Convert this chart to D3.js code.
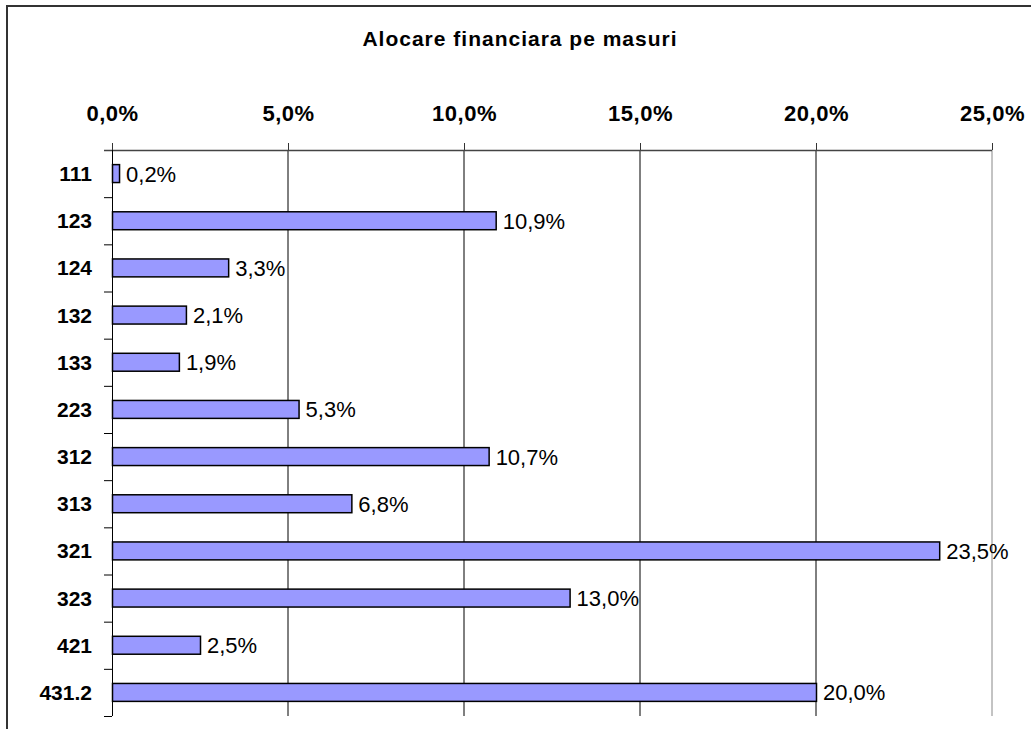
<!DOCTYPE html>
<html>
<head>
<meta charset="UTF-8">
<script src="https://cdn.jsdelivr.net/npm/d3@7.9.0/dist/d3.min.js"></script>
<style>
  body { margin: 0; background: #fff; }
  svg { font-family: "Liberation Sans", Arial, sans-serif; }
</style>
</head>
<body>
<svg id="chart" width="1031" height="729"></svg>
<script>
// chart data
const measures = ['111', '123', '124', '132', '133', '223', '312', '313', '321', '323', '421', '431.2'];
const shares = [0.2, 10.9, 3.3, 2.1, 1.9, 5.3, 10.7, 6.8, 23.5, 13.0, 2.5, 20.0];
const tickValues = [0, 5, 10, 15, 20, 25];

const svg = d3.select('#chart');
const margin = { left: 112, top: 150, right: 39, bottom: 13 };
const W = 1031, H = 729;

// outer frame (runs past the right and bottom edges)
svg.append('rect')
    .attr('x', 7).attr('y', 6)
    .attr('width', W + 10).attr('height', H + 10)
    .attr('fill', 'none').attr('stroke', '#333').attr('stroke-width', 2);

svg.append('text')
    .attr('x', 520).attr('y', 46)
    .attr('text-anchor', 'middle')
    .attr('font-weight', 'bold').attr('font-size', 21)
    .attr('letter-spacing', 1)
    .text('Alocare financiara pe masuri');

let x = d3.scaleLinear().domain([0, 25]).range([margin.left, W - margin.right]);
let y = d3.scaleBand().domain(measures).range([margin.top, H - margin.bottom]).paddingInner(0.62).paddingOuter(0.31);

const fmt = v => d3.format('.1f')(v).replace('.', ',') + '%';

// vertical gridlines
svg.append('g').selectAll('line')
    .data(tickValues.slice(1))
    .enter().append('line')
    .attr('x1', d => x(d)).attr('x2', d => x(d))
    .attr('y1', margin.top).attr('y2', H - margin.bottom)
    .attr('stroke', d => d === 25 ? '#888' : '#000')
    .attr('stroke-width', 1);

// top axis
let xAxis = d3.axisTop(x).tickValues(tickValues).tickSize(7).tickSizeOuter(0).tickFormat(fmt);
let gx = svg.append('g').attr('transform', `translate(0,${margin.top})`).call(xAxis);
gx.select('.domain').remove();
gx.selectAll('.tick line').attr('stroke', '#333');
gx.selectAll('.tick text')
    .attr('y', -29)
    .attr('font-size', 22).attr('font-weight', 'bold')
    .attr('letter-spacing', 0.5)
    .attr('font-family', '"Liberation Sans", Arial, sans-serif')
    .attr('fill', '#000');
svg.append('line')
    .attr('x1', margin.left - 8).attr('x2', x(25))
    .attr('y1', margin.top + 0.5).attr('y2', margin.top + 0.5)
    .attr('stroke', '#444').attr('stroke-width', 1.5);

// left axis line + boundary ticks
const step = y.step();
svg.append('line')
    .attr('x1', margin.left + 0.5).attr('x2', margin.left + 0.5)
    .attr('y1', margin.top).attr('y2', H - margin.bottom)
    .attr('stroke', '#000');
svg.append('g').selectAll('line')
    .data(d3.range(1, measures.length + 1))
    .enter().append('line')
    .attr('x1', margin.left - 8).attr('x2', margin.left)
    .attr('y1', i => margin.top + i * step + 0.5)
    .attr('y2', i => margin.top + i * step + 0.5)
    .attr('stroke', '#000');

// category labels
svg.append('g').selectAll('text')
    .data(measures)
    .enter().append('text')
    .attr('x', margin.left - 20)
    .attr('y', d => y(d) + y.bandwidth() / 2)
    .attr('dy', '0.36em')
    .attr('text-anchor', 'end')
    .attr('font-size', 21).attr('font-weight', 'bold')
    .text(d => d);

// bars
svg.append('g').selectAll('rect')
    .data(shares)
    .enter().append('rect')
    .attr('x', x(0) + 0.5)
    .attr('y', (d, i) => y(measures[i]))
    .attr('width', d => x(d) - x(0))
    .attr('height', y.bandwidth())
    .attr('fill', '#9999ff')
    .attr('stroke', '#000').attr('stroke-width', 1.5);

// value labels
svg.append('g').selectAll('text')
    .data(shares)
    .enter().append('text')
    .attr('x', d => x(d) + 7)
    .attr('y', (d, i) => y(measures[i]) + y.bandwidth() / 2)
    .attr('dy', '0.36em')
    .attr('font-size', 22)
    .text(d => fmt(d));
</script>
</body>
</html>
